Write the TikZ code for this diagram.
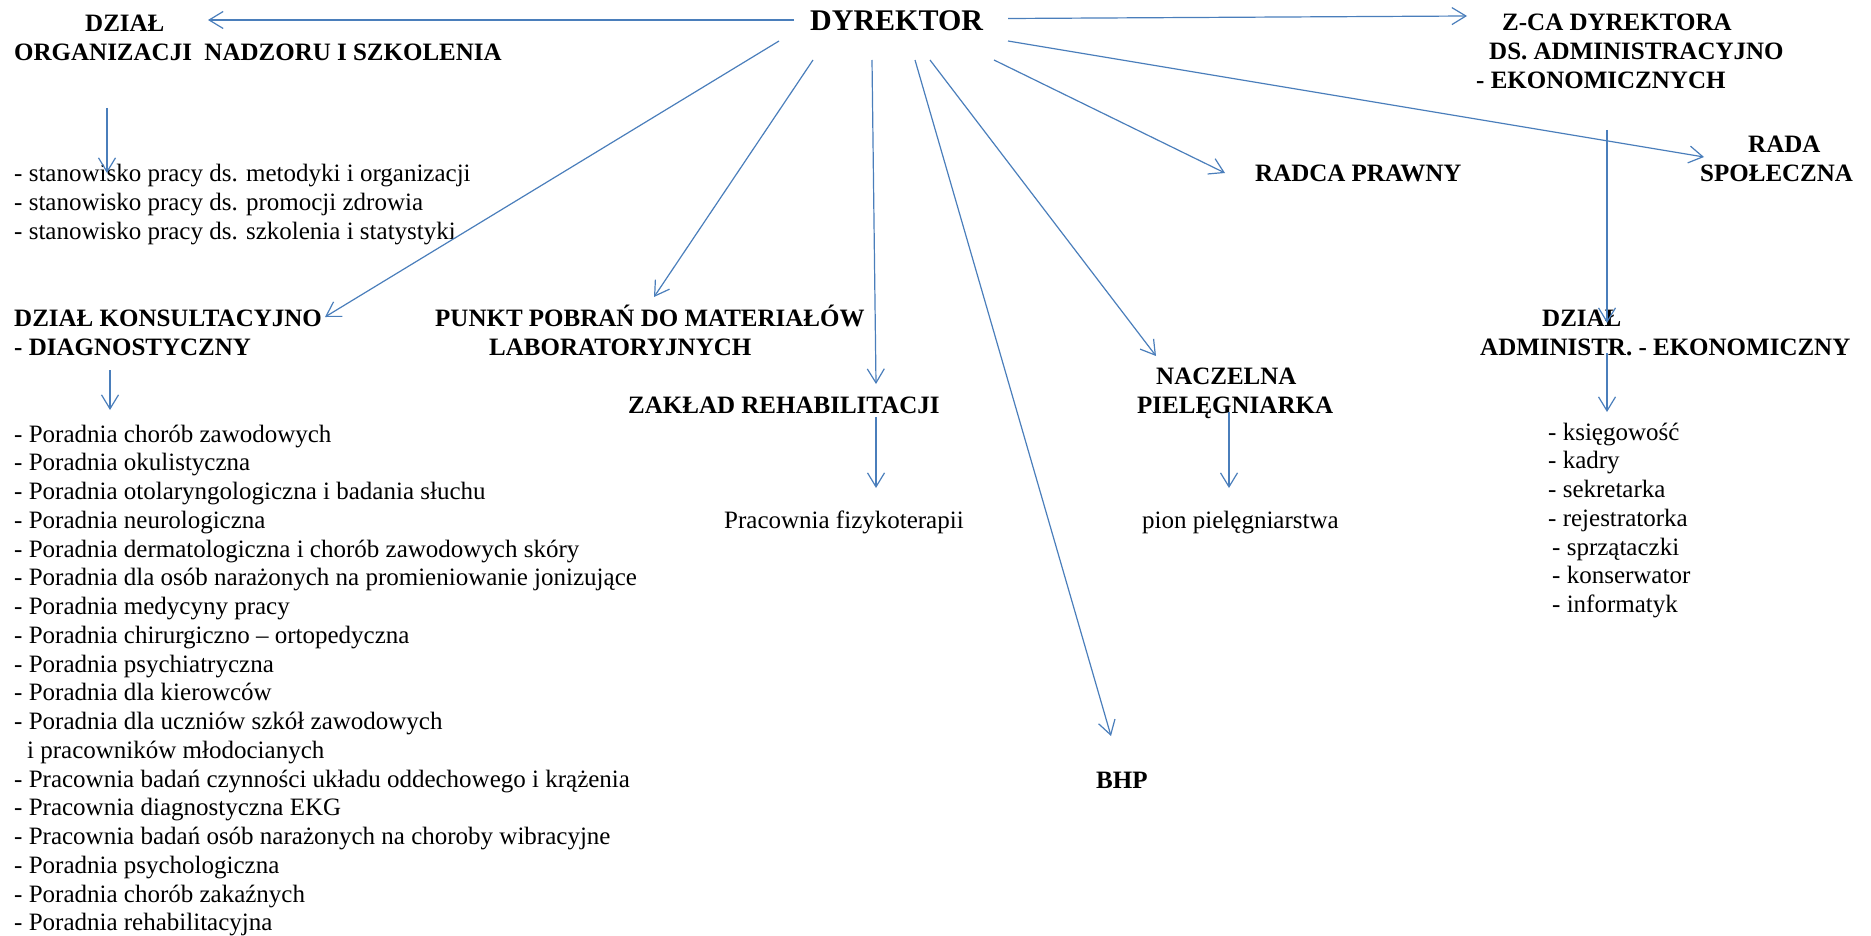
\documentclass[tikz,border=0pt]{standalone}
\usepackage{fontspec}
\setmainfont{Liberation Serif}
\usetikzlibrary{arrows.meta}
\definecolor{linkblue}{RGB}{74,126,187}

\begin{document}
\begin{tikzpicture}[x=1pt,y=-1pt,
  txt/.style={anchor=base west,inner sep=0pt,align=left,font=\fontsize{25}{28.75}\selectfont},
  head/.style={txt,font=\fontsize{25}{29}\selectfont\bfseries},
  link/.style={draw=linkblue,line width=1.2pt,-{Straight Barb[length=14pt,width=17pt]}}]

  \useasboundingbox (0,0) rectangle (1871,936);

  % multi-line nodes sit on the baseline of their last line
  \coordinate (DW)   at (794,20);
  \coordinate (DE)   at (1008,18.5);
  \coordinate (DSW)  at (779,41);
  \coordinate (DS1)  at (813,60);
  \coordinate (DS2)  at (872,60);
  \coordinate (DS3)  at (915,60);
  \coordinate (DS4)  at (930,60);
  \coordinate (DS5)  at (994,60);
  \coordinate (DSE)  at (1008,41);
  \coordinate (ORGT) at (208,20);
  \coordinate (ZCAT) at (1467,16);
  \coordinate (KONT) at (325,317);
  \coordinate (PKTT) at (654,297);
  \coordinate (ZAKT) at (876,384);
  \coordinate (BHPT) at (1111,736);
  \coordinate (NACT) at (1156,356);
  \coordinate (RPRT) at (1225,173);
  \coordinate (RSPT) at (1704,157);
  \coordinate (ORGB) at (107,108);
  \coordinate (ORGL) at (107,173);
  \coordinate (KONB) at (110,370);
  \coordinate (KONL) at (110,410);
  \coordinate (ZAKB) at (876,417);
  \coordinate (ZAKL) at (876,488);
  \coordinate (NACB) at (1229,412);
  \coordinate (NACL) at (1229,488);
  \coordinate (ZCAB) at (1607,130);
  \coordinate (ADMT) at (1607,323);
  \coordinate (ADMB) at (1607,353);
  \coordinate (ADML) at (1607,412);

  \node (dyr) at (810,31) [head,font=\fontsize{30}{34}\selectfont\bfseries]{DYREKTOR};
  \node (org) at (14,61) [head]{\hspace*{71pt}DZIAŁ\\ORGANIZACJI\ \ NADZORU I SZKOLENIA};
  \node (orglist) at (14,239.5) [txt]{- stanowisko pracy ds. metodyki i organizacji\\
    - stanowisko pracy ds. promocji zdrowia\\
    - stanowisko pracy ds. szkolenia i statystyki};
  \node (kon) at (14,355) [head]{DZIAŁ KONSULTACYJNO\\- DIAGNOSTYCZNY};
  \node (konlist) at (14,930.75) [txt]{- Poradnia chorób zawodowych\\
    - Poradnia okulistyczna\\
    - Poradnia otolaryngologiczna i badania słuchu\\
    - Poradnia neurologiczna\\
    - Poradnia dermatologiczna i chorób zawodowych skóry\\
    - Poradnia dla osób narażonych na promieniowanie jonizujące\\
    - Poradnia medycyny pracy\\
    - Poradnia chirurgiczno – ortopedyczna\\
    - Poradnia psychiatryczna\\
    - Poradnia dla kierowców\\
    - Poradnia dla uczniów szkół zawodowych\\
    \hspace*{13pt}i pracowników młodocianych\\
    - Pracownia badań czynności układu oddechowego i krążenia\\
    - Pracownia diagnostyczna EKG\\
    - Pracownia badań osób narażonych na choroby wibracyjne\\
    - Poradnia psychologiczna\\
    - Poradnia chorób zakaźnych\\
    - Poradnia rehabilitacyjna};
  \node (pkt) at (435,355) [head]{PUNKT POBRAŃ DO MATERIAŁÓW\\\hspace*{54pt}LABORATORYJNYCH};
  \node (zak) at (628,413) [head]{ZAKŁAD REHABILITACJI};
  \node (fiz) at (724,528) [txt]{Pracownia fizykoterapii};
  \node (bhp) at (1096,788) [head]{BHP};
  \node (nac) at (1137,413) [head]{\hspace*{19pt}NACZELNA\\PIELĘGNIARKA};
  \node (pion) at (1142,528) [txt]{pion pielęgniarstwa};
  \node (rpr) at (1255,182) [head]{RADCA PRAWNY};
  \node (zca) at (1476,89) [head]{\hspace*{26pt}Z-CA DYREKTORA\\\hspace*{13pt}DS. ADMINISTRACYJNO\\- EKONOMICZNYCH};
  \node (rsp) at (1700,182) [head]{\hspace*{48pt}RADA\\SPOŁECZNA};
  \node (adm) at (1480,355) [head]{\hspace*{62pt}DZIAŁ\\ADMINISTR. - EKONOMICZNY};
  \node (admlist) at (1548,612.5) [txt]{- księgowość\\
    - kadry\\
    - sekretarka\\
    - rejestratorka\\
    \hspace*{4pt}- sprzątaczki\\
    \hspace*{4pt}- konserwator\\
    \hspace*{4pt}- informatyk};

  \draw[link] (DW) -- (ORGT);
  \draw[link] (DE) -- (ZCAT);
  \draw[link] (DSW) -- (KONT);
  \draw[link] (DS1) -- (PKTT);
  \draw[link] (DS2) -- (ZAKT);
  \draw[link] (DS3) -- (BHPT);
  \draw[link] (DS4) -- (NACT);
  \draw[link] (DS5) -- (RPRT);
  \draw[link] (DSE) -- (RSPT);
  \draw[link] (ORGB) -- (ORGL);
  \draw[link] (KONB) -- (KONL);
  \draw[link] (ZAKB) -- (ZAKL);
  \draw[link] (NACB) -- (NACL);
  \draw[link] (ZCAB) -- (ADMT);
  \draw[link] (ADMB) -- (ADML);

\end{tikzpicture}
\end{document}
